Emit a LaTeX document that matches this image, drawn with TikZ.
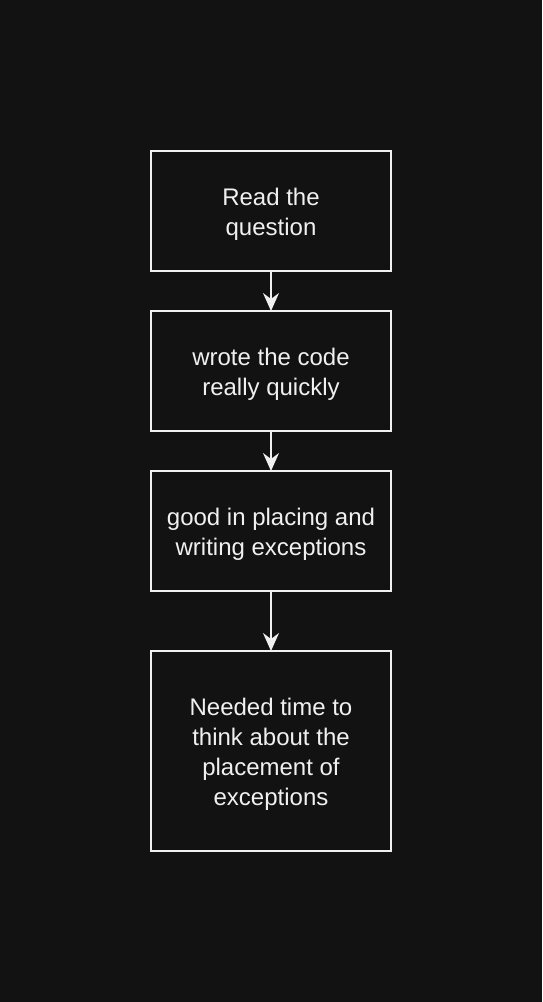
\documentclass[tikz,border=0pt]{standalone}
\usepackage{fontspec}
\setmainfont{Liberation Sans}
\usepackage{tikz}
\usetikzlibrary{arrows.meta, positioning, calc}
\definecolor{bgdark}{RGB}{18,18,18}
\definecolor{linewhite}{RGB}{240,240,240}

\begin{document}
\begin{tikzpicture}
            [->, >={Stealth[length=18pt, width=16pt, inset=6pt, fill=linewhite]}, auto, node distance=40pt, line width=1.8pt,
            stepbox/.style={rectangle, draw=linewhite, fill=bgdark, text=linewhite, minimum width=240pt, minimum height=120pt, align=center, inner sep=0pt, outer sep=0pt, font=\fontsize{24pt}{30pt}\selectfont,
                execute at begin node={\vbox\bgroup\kern7pt\hbox\bgroup}, execute at end node={\egroup\egroup}}]
            \fill[bgdark] (0pt,0pt) rectangle (542pt,-1002pt);
            \useasboundingbox (0pt,0pt) rectangle (542pt,-1002pt);

            \node[stepbox]  (read)  at (271pt,-211pt)
            {Read the \\ question};

            \node[stepbox]  (wrote) [below = of read]
            {wrote the code \\ really quickly};

            \node[stepbox]  (good)  [below = of wrote]
            {good in placing and \\ writing exceptions};

            \node[stepbox, minimum height=200pt]  (needed)    [below = 60pt of good]
            {Needed time to \\ think about the \\ placement of \\ exceptions};

            \path[draw=linewhite] (read) edge   (wrote)
                  (wrote) edge  (good)
                  (good) edge   (needed);
        \end{tikzpicture}
\end{document}
